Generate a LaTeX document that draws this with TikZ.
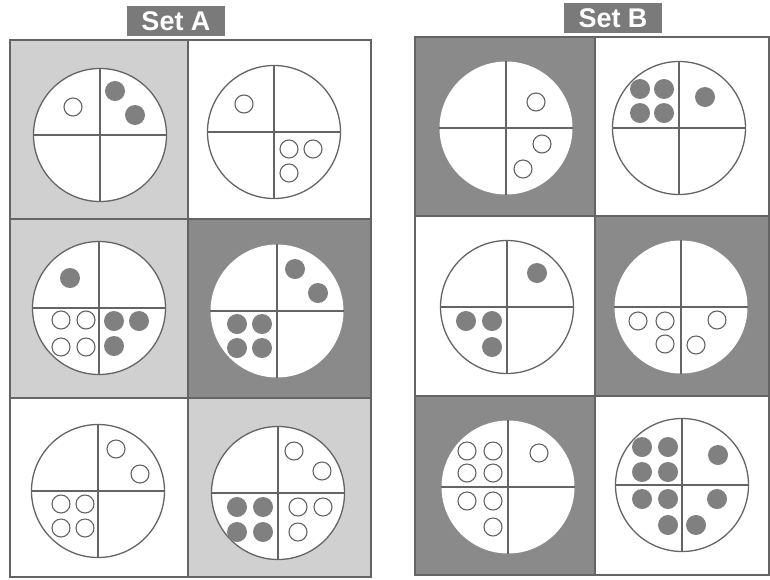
\documentclass[tikz,border=0pt]{standalone}
\usepackage{fontspec}
\setsansfont{Liberation Sans}
\definecolor{cellgray}{RGB}{208,208,208}
\definecolor{darkgray}{RGB}{138,138,138}
\definecolor{dotgray}{RGB}{128,128,128}
\definecolor{linegray}{RGB}{100,100,100}
\definecolor{titlegray}{RGB}{122,122,122}

\begin{document}
\begin{tikzpicture}[x=1pt, y=-1pt,
    title/.style = {fill=titlegray, text=white, font=\sffamily\bfseries\fontsize{27}{27}\selectfont,
                    minimum width=98pt, minimum height=30pt, inner sep=0pt},
    lightcell/.style = {fill=cellgray, draw=linegray, line width=1.2pt},
    darkcell/.style = {fill=darkgray, draw=linegray, line width=1.2pt},
    whitecell/.style = {fill=white, draw=linegray, line width=1.2pt},
    wheel/.style = {draw=linegray, fill=white, circle, line width=1.3pt, minimum size=133pt, inner sep=0pt},
    bare/.style = {wheel, draw=none},
    cross/.style = {draw=linegray, line width=1.3pt},
    full/.style = {circle, fill=dotgray, minimum size=20pt, inner sep=0pt},
    hollow/.style = {circle, draw=linegray, fill=white, line width=1.1pt, minimum size=18pt, inner sep=0pt}]
    \useasboundingbox (0,0) rectangle (770,579);

    % titles
    \node[title] (tA) at (176,21) {Set A};
    \node[title] (tB) at (613,18) {Set B};

    % Set A cells
    \draw[lightcell] (10,40) rectangle (188,219);
    \draw[whitecell] (188,40) rectangle (371,219);
    \draw[lightcell] (10,219) rectangle (188,398);
    \draw[darkcell] (188,219) rectangle (371,398);
    \draw[whitecell] (10,398) rectangle (188,577);
    \draw[lightcell] (188,398) rectangle (371,577);

    % Set B cells
    \draw[darkcell] (415,37) rectangle (595,216);
    \draw[whitecell] (595,37) rectangle (769,216);
    \draw[whitecell] (415,216) rectangle (595,396);
    \draw[darkcell] (595,216) rectangle (769,396);
    \draw[darkcell] (415,396) rectangle (595,575);
    \draw[whitecell] (595,396) rectangle (769,575);

    % Set A wheels
    \begin{scope}[shift={(100,135)}]
        \node[wheel] (A1) at (0,0) {};
        \draw[cross] (A1.north) -- (A1.south) (A1.west) -- (A1.east);
        \node[hollow] (A1h1) at (-27,-28) {};
        \foreach \x/\y [count=\i] in {15/-44, 35/-20}
            \node[full] (A1f\i) at (\x,\y) {};
    \end{scope}

    \begin{scope}[shift={(274,132)}]
        \node[wheel] (A2) at (0,0) {};
        \draw[cross] (A2.north) -- (A2.south) (A2.west) -- (A2.east);
        \foreach \x/\y [count=\i] in {-30/-28, 15/17, 39/17, 15/41}
            \node[hollow] (A2h\i) at (\x,\y) {};
    \end{scope}

    \begin{scope}[shift={(99,308)}]
        \node[wheel] (A3) at (0,0) {};
        \draw[cross] (A3.north) -- (A3.south) (A3.west) -- (A3.east);
        \foreach \x/\y [count=\i] in {-29/-30, 15/13, 40/13, 15/38}
            \node[full] (A3f\i) at (\x,\y) {};
        \foreach \x/\y [count=\i] in {-38/12, -13/12, -38/39, -13/39}
            \node[hollow] (A3h\i) at (\x,\y) {};
    \end{scope}

    \begin{scope}[shift={(277,311)}]
        \node[bare] (A4) at (0,0) {};
        \draw[cross] (A4.north) -- (A4.south) (A4.west) -- (A4.east);
        \foreach \x/\y [count=\i] in {18/-42, 41/-18, -40/13, -15/13, -40/37, -15/37}
            \node[full] (A4f\i) at (\x,\y) {};
    \end{scope}

    \begin{scope}[shift={(98,491)}]
        \node[wheel] (A5) at (0,0) {};
        \draw[cross] (A5.north) -- (A5.south) (A5.west) -- (A5.east);
        \foreach \x/\y [count=\i] in {18/-42, 42/-17, -37/13, -13/13, -37/37, -13/37}
            \node[hollow] (A5h\i) at (\x,\y) {};
    \end{scope}

    \begin{scope}[shift={(278,493)}]
        \node[wheel] (A6) at (0,0) {};
        \draw[cross] (A6.north) -- (A6.south) (A6.west) -- (A6.east);
        \foreach \x/\y [count=\i] in {16/-42, 44/-22, 20/14, 45/14, 20/39}
            \node[hollow] (A6h\i) at (\x,\y) {};
        \foreach \x/\y [count=\i] in {-41/14, -15/14, -41/39, -15/39}
            \node[full] (A6f\i) at (\x,\y) {};
    \end{scope}

    % Set B wheels
    \begin{scope}[shift={(506,128)}]
        \node[bare] (B1) at (0,0) {};
        \draw[cross] (B1.north) -- (B1.south) (B1.west) -- (B1.east);
        \foreach \x/\y [count=\i] in {30/-26, 36/16, 17/41}
            \node[hollow] (B1h\i) at (\x,\y) {};
    \end{scope}

    \begin{scope}[shift={(679,128)}]
        \node[wheel] (B2) at (0,0) {};
        \draw[cross] (B2.north) -- (B2.south) (B2.west) -- (B2.east);
        \foreach \x/\y [count=\i] in {-39/-39, -15/-39, -39/-15, -15/-15, 26/-31}
            \node[full] (B2f\i) at (\x,\y) {};
    \end{scope}

    \begin{scope}[shift={(507,307)}]
        \node[wheel] (B3) at (0,0) {};
        \draw[cross] (B3.north) -- (B3.south) (B3.west) -- (B3.east);
        \foreach \x/\y [count=\i] in {30/-34, -41/14, -15/14, -15/40}
            \node[full] (B3f\i) at (\x,\y) {};
    \end{scope}

    \begin{scope}[shift={(681,307)}]
        \node[bare] (B4) at (0,0) {};
        \draw[cross] (B4.north) -- (B4.south) (B4.west) -- (B4.east);
        \foreach \x/\y [count=\i] in {-43/14, -16/14, -16/37, 15/38, 36/13}
            \node[hollow] (B4h\i) at (\x,\y) {};
    \end{scope}

    \begin{scope}[shift={(508,487)}]
        \node[bare] (B5) at (0,0) {};
        \draw[cross] (B5.north) -- (B5.south) (B5.west) -- (B5.east);
        \foreach \x/\y [count=\i] in {-41/-36, -15/-36, -41/-14, -15/-14, 31/-34, -41/14, -15/14, -15/40}
            \node[hollow] (B5h\i) at (\x,\y) {};
    \end{scope}

    \begin{scope}[shift={(682,485)}]
        \node[wheel] (B6) at (0,0) {};
        \draw[cross] (B6.north) -- (B6.south) (B6.west) -- (B6.east);
        \foreach \x/\y [count=\i] in {-40/-38, -14/-38, -40/-13, -14/-13, 36/-30, -40/14, -14/14, -14/40, 14/40, 35/14}
            \node[full] (B6f\i) at (\x,\y) {};
    \end{scope}
\end{tikzpicture}
\end{document}
